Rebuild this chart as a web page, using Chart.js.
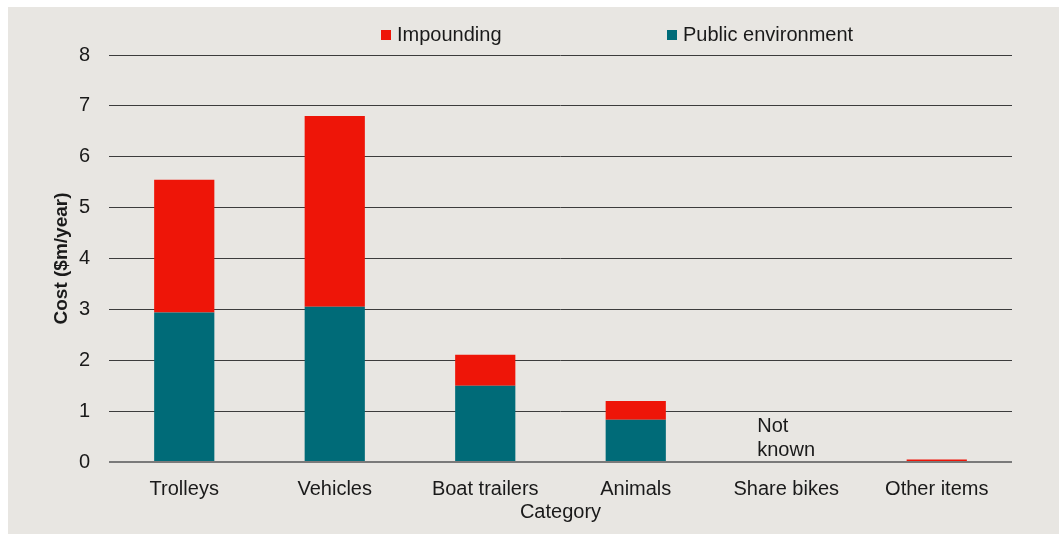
<!DOCTYPE html>
<html>
<head>
<meta charset="utf-8">
<script src="https://cdn.jsdelivr.net/npm/chart.js@4"></script>
<style>
  html, body { margin: 0; padding: 0; background: #fff; }
  #wrap { position: absolute; left: 8px; top: 7px; width: 1051px; height: 527px; background: #e8e6e2; }
  canvas { display: block; }
</style>
</head>
<body>
<div id="wrap"><canvas id="costChart" width="1051" height="527"></canvas></div>
<script>
// values ($m/year)
const categories = ["Trolleys", "Vehicles", "Boat trailers", "Animals", "Share bikes", "Other items"];
const publicEnv = [2.94, 3.05, 1.50, 0.83, null, 0.02];
const impounding = [2.61, 3.75, 0.61, 0.37, null, 0.03];
const yTicks = [0, 1, 2, 3, 4, 5, 6, 7, 8];
const notes = ["", "", "", "", "Not\nknown", ""];

const RED = "#ee1508";
const TEAL = "#006b78";
const FONT = "'Liberation Sans', Arial, sans-serif";
const TEXT = "#1a1a1a";

// legend drawn by hand so it can sit off-centre like the original
const topLegend = {
  id: "topLegend",
  afterDraw(chart, args, opts) {
    const ctx = chart.ctx;
    ctx.save();
    ctx.font = "20px " + FONT;
    ctx.textBaseline = "middle";
    ctx.textAlign = "left";
    opts.order.forEach((dsIndex, i) => {
      const ds = chart.data.datasets[dsIndex];
      const x = opts.xs[i];
      ctx.fillStyle = ds.backgroundColor;
      ctx.fillRect(x, opts.y - 5, 10, 10);
      ctx.fillStyle = TEXT;
      ctx.fillText(ds.label, x + 16, opts.y);
    });
    ctx.restore();
  }
};

const noteLabels = {
  id: "noteLabels",
  afterDatasetsDraw(chart) {
    const ctx = chart.ctx;
    const xs = chart.scales.x, ys = chart.scales.y;
    ctx.save();
    ctx.font = "20px " + FONT;
    ctx.fillStyle = TEXT;
    ctx.textAlign = "left";
    ctx.textBaseline = "middle";
    notes.forEach((note, i) => {
      if (!note) return;
      const lines = note.split("\n");
      const x = xs.getPixelForValue(i) - 29;
      const base = ys.getPixelForValue(0) - 12;
      lines.forEach((ln, k) => {
        ctx.fillText(ln, x, base - (lines.length - 1 - k) * 24);
      });
    });
    ctx.restore();
  }
};

new Chart(document.getElementById("costChart"), {
  type: "bar",
  data: {
    labels: categories,
    datasets: [
      { label: "Public environment", data: publicEnv, backgroundColor: TEAL, stack: "s" },
      { label: "Impounding", data: impounding, backgroundColor: RED, stack: "s" }
    ]
  },
  options: {
    responsive: false,
    animation: false,
    devicePixelRatio: 1,
    layout: { padding: { top: 48, right: 47, left: 0, bottom: 0 } },
    datasets: { bar: { categoryPercentage: 1, barPercentage: 0.4 } },
    plugins: {
      legend: { display: false },
      tooltip: { enabled: false },
      topLegend: { order: [1, 0], xs: [373, 659], y: 28 }
    },
    scales: {
      x: {
        stacked: true,
        grid: { display: false, drawTicks: false },
        border: { display: false },
        ticks: { color: TEXT, font: { family: FONT, size: 20 }, padding: 15 },
        title: { display: true, text: "Category", color: TEXT, font: { family: FONT, size: 20 }, padding: { top: 0, bottom: 10 } },
        afterFit(scale) { scale.height = 72; }
      },
      y: {
        stacked: true,
        min: 0,
        max: 8,
        afterBuildTicks(scale) { scale.ticks = yTicks.map(v => ({ value: v })); },
        grid: {
          drawTicks: false,
          color: ctx => ctx.tick && ctx.tick.value === 0 ? "#7a7a7a" : "#3c3c3c",
          lineWidth: ctx => ctx.tick && ctx.tick.value === 0 ? 2 : 1
        },
        border: { display: false },
        ticks: { color: TEXT, font: { family: FONT, size: 20 }, padding: 19 },
        title: { display: true, text: "Cost ($m/year)", color: TEXT, font: { family: FONT, size: 19, weight: "bold" }, padding: { top: 42, bottom: 0 } },
        afterFit(scale) { scale.width = 101; }
      }
    }
  },
  plugins: [topLegend, noteLabels]
});
</script>
</body>
</html>
